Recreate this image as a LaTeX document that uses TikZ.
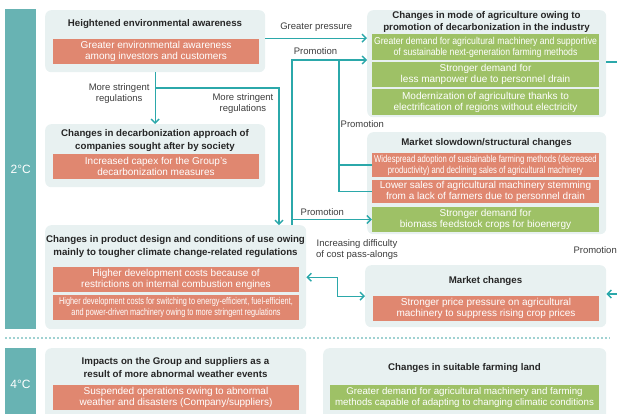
\documentclass[tikz,border=0pt]{standalone}
\usepackage{fontspec}
\setmainfont{Liberation Sans}
\newfontfamily\narrowfont[FakeStretch=0.87]{Liberation Sans}
\newfontfamily\narrowerfont[FakeStretch=0.77]{Liberation Sans}
\newfontfamily\narrowestfont[FakeStretch=0.75]{Liberation Sans}
\usetikzlibrary{arrows.meta}

\definecolor{panelbg}{RGB}{232,241,241}
\definecolor{barteal}{RGB}{104,179,179}
\definecolor{lineteal}{RGB}{43,168,170}
\definecolor{rowred}{RGB}{224,135,112}
\definecolor{rowgreen}{RGB}{158,193,102}
\definecolor{septeal}{RGB}{160,210,210}
\definecolor{labelgray}{RGB}{60,60,60}

\begin{document}
\begin{tikzpicture}[
  x=1pt,y=-1pt,
  panel/.style={fill=panelbg,rounded corners=6pt,anchor=north west,inner sep=0pt},
  bar/.style={fill=barteal,anchor=north west,inner sep=0pt,minimum width=31pt,text=white,font=\fontsize{12}{14}\selectfont},
  ttl/.style={align=center,inner sep=0pt,text=black!85,font=\fontsize{9.7}{12.5}\selectfont\bfseries},
  row/.style={inner sep=0pt,align=center,text=white,font=\fontsize{10}{11}\selectfont},
  redrow/.style={row,fill=rowred},
  greenrow/.style={row,fill=rowgreen},
  narrow/.style={font=\narrowfont\fontsize{10}{11}\selectfont},
  narrower/.style={font=\narrowerfont\fontsize{10}{11}\selectfont},
  narrowest/.style={font=\narrowestfont\fontsize{9.8}{11}\selectfont},
  link/.style={lineteal,line width=1.4pt},
  arr/.style={link,-{Straight Barb[length=4pt,width=8pt]}},
  darr/.style={link,{Straight Barb[length=4pt,width=8pt]}-{Straight Barb[length=4pt,width=8pt]}},
  lbl/.style={text=labelgray,align=center,inner sep=1pt,font=\fontsize{9.5}{11}\selectfont},
  sep/.style={septeal,line width=1.2pt,dash pattern=on 2pt off 2pt}
]
  \useasboundingbox (0,0) rectangle (617,413);
  \clip (0,0) rectangle (617,413);

  % scenario bars
  \node[bar,minimum height=320pt] (c2) at (5,9) {2°C};
  \node[bar,minimum height=70pt] (c4) at (5,348) {};
  \node[text=white,font=\fontsize{12}{14}\selectfont] (c4t) at (20.5,384) {4°C};
  \draw[sep] (5,338) -- (610,338);

  % panels
  \node[panel,minimum width=220pt,minimum height=62pt] (he) at (45,10) {};
  \node[panel,minimum width=220pt,minimum height=63pt] (dc) at (45,124) {};
  \node[panel,minimum width=261pt,minimum height=104pt] (pd) at (45,225) {};
  \node[panel,minimum width=239pt,minimum height=107pt] (ma) at (367,10) {};
  \node[panel,minimum width=239pt,minimum height=102pt] (ms) at (367,132) {};
  \node[panel,minimum width=241pt,minimum height=62pt] (mk) at (365,265) {};
  \node[panel,minimum width=261pt,minimum height=80pt] (ab) at (45,348) {};
  \node[panel,minimum width=283pt,minimum height=80pt] (fl) at (323,348) {};

  % titles
  \node[ttl] (he-t) at (155,24) {Heightened environmental awareness};
  \node[ttl] (dc-t) at (155,140.5) {Changes in decarbonization approach of\\companies sought after by society};
  \node[ttl] (pd-t) at (175.5,246.5) {Changes in product design and conditions of use owing\\mainly to tougher climate change-related regulations};
  \node[ttl] (ma-t) at (486.5,22) {Changes in mode of agriculture owing to\\promotion of decarbonization in the industry};
  \node[ttl] (ms-t) at (486.5,143) {Market slowdown/structural changes};
  \node[ttl] (mk-t) at (485.5,281) {Market changes};
  \node[ttl] (ab-t) at (175.5,367.5) {Impacts on the Group and suppliers as a\\result of more abnormal weather events};
  \node[ttl] (fl-t) at (464.5,368) {Changes in suitable farming land};

  % rows
  \node[redrow,minimum width=206pt,minimum height=25pt] (he-1) at (156,51.5) {Greater environmental awareness\\among investors and customers};
  \node[redrow,minimum width=206pt,minimum height=25pt] (dc-1) at (156,166.5) {Increased capex for the Group’s\\decarbonization measures};
  \node[redrow,minimum width=246pt,minimum height=25pt] (pd-1) at (176,279.5) {Higher development costs because of\\restrictions on internal combustion engines};
  \node[redrow,narrowest,minimum width=246pt,minimum height=25pt] (pd-2) at (176,307.5) {Higher development costs for switching to energy-efficient, fuel-efficient,\\and power-driven machinery owing to more stringent regulations};
  \node[greenrow,narrow,minimum width=227pt,minimum height=26pt] (ma-1) at (485.5,47) {Greater demand for agricultural machinery and supportive\\of sustainable next-generation farming methods};
  \node[greenrow,minimum width=227pt,minimum height=25pt] (ma-2) at (485.5,74.5) {Stronger demand for\\less manpower due to personnel drain};
  \node[greenrow,minimum width=227pt,minimum height=26pt] (ma-3) at (485.5,102) {Modernization of agriculture thanks to\\electrification of regions without electricity};
  \node[redrow,narrower,minimum width=227pt,minimum height=24pt] (ms-1) at (485.5,165) {Widespread adoption of sustainable farming methods (decreased\\productivity) and declining sales of agricultural machinery};
  \node[redrow,minimum width=227pt,minimum height=23pt] (ms-2) at (485.5,191.5) {Lower sales of agricultural machinery stemming\\from a lack of farmers due to personnel drain};
  \node[greenrow,minimum width=227pt,minimum height=25pt] (ms-3) at (485.5,219.5) {Stronger demand for\\biomass feedstock crops for bioenergy};
  \node[redrow,minimum width=226pt,minimum height=25pt] (mk-1) at (486,308.5) {Stronger price pressure on agricultural\\machinery to suppress rising crop prices};
  \node[redrow,minimum width=246pt,minimum height=25pt] (ab-1) at (176,397.5) {Suspended operations owing to abnormal\\weather and disasters (Company/suppliers)};
  \node[greenrow,font=\fontsize{9.7}{11}\selectfont,minimum width=269pt,minimum height=25pt] (fl-1) at (464.5,397.5) {Greater demand for agricultural machinery and farming\\methods capable of adapting to changing climatic conditions};

  % connectors
  \draw[arr] ([yshift=3pt]he.east) -- node[lbl,above=5pt]{Greater pressure} ([yshift=3pt]he.east -| ma.west);

  \coordinate (pv) at (292,60);
  \coordinate (pw) at (339,60);
  \draw[arr] (pd.north -| pv) -- (pv) -- node[lbl,above=3.5pt]{Promotion} (pw) -- (pw -| ma.west);
  \draw[link] (pw) -- node[lbl,right,pos=0.61]{Promotion} (pw |- ms-1.west) -- (ms-1.west);
  \draw[link] (pw |- ms-1.west) -- (pw |- ms-2.west) -- (ms-2.west);
  \draw[arr] (pv |- ms-3.west) -- node[lbl,above=2.5pt,pos=0.38]{Promotion} (ms-3.west);

  \draw[arr] (he.south) -- node[lbl,left=4pt,pos=0.41]{More stringent\\regulations} (dc.north);
  \coordinate (sj) at (155,88);
  \coordinate (sk) at (279,88);
  \draw[arr] (sj) -- (sk) -- node[lbl,left=4pt,pos=0.11]{More stringent\\regulations} (sk |- pd.north);

  \draw[darr] (pd.east) -- ++(31,0) |- (mk.west);
  \node[lbl] (cpa) at (357,250) {Increasing difficulty\\of cost pass-alongs};

  \coordinate (rt) at (617,62);
  \draw[link] (ma.east |- rt) -- (rt);
  \node[lbl,anchor=east] (pr) at (618,250) {Promotion};
  \coordinate (rb) at (617,294);
  \draw[arr] (rb) -- (mk.east |- rb);
\end{tikzpicture}
\end{document}
